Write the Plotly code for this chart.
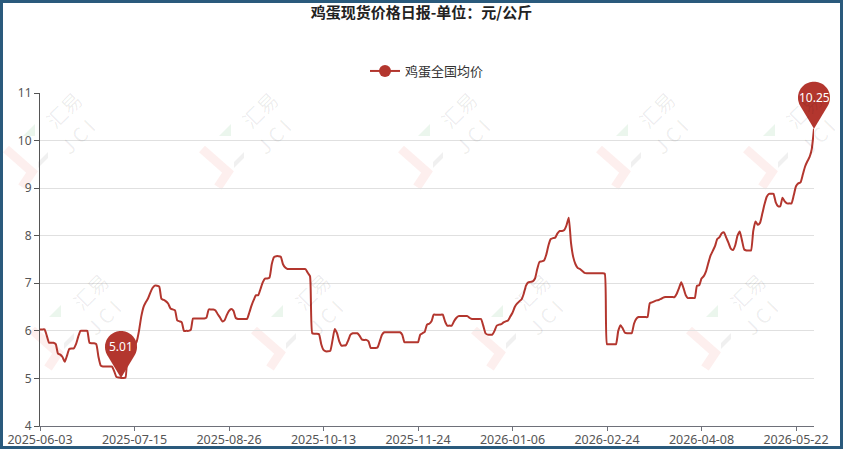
import math
import pandas as pd
import plotly.graph_objects as go

title_text = "鸡蛋现货价格日报-单位：元/公斤"
series_name = "鸡蛋全国均价"

start_date = "2025-06-03"
end_date = "2026-05-30"
# days with no quote (holidays)
closed_days = [
    "2025-10-01", "2025-10-02", "2025-10-03", "2025-10-04", "2025-10-05", "2025-10-06",
    "2026-01-01",
    "2026-02-16", "2026-02-17", "2026-02-18", "2026-02-19", "2026-02-20", "2026-02-21", "2026-02-22",
    "2026-04-05",
    "2026-05-01", "2026-05-02",
]

# 元/公斤, one value per quoted day
egg_price = [
    6.03, 6.03, 6.03, 5.90, 5.75, 5.75, 5.75, 5.72, 5.52, 5.50,
    5.45, 5.35, 5.48, 5.62, 5.63, 5.63, 5.72, 5.88, 6.00, 6.00,
    6.00, 6.00, 5.75, 5.74, 5.74, 5.72, 5.45, 5.27, 5.25, 5.25,
    5.25, 5.25, 5.25, 5.15, 5.03, 5.02, 5.01, 5.01, 5.02, 5.60,
    5.69, 5.69, 5.69, 5.78, 6.00, 6.30, 6.50, 6.60, 6.68, 6.80,
    6.90, 6.95, 6.95, 6.93, 6.67, 6.65, 6.62, 6.57, 6.47, 6.45,
    6.43, 6.22, 6.20, 6.18, 6.00, 6.00, 6.00, 6.02, 6.26, 6.26,
    6.26, 6.26, 6.26, 6.26, 6.28, 6.45, 6.45, 6.45, 6.43, 6.35,
    6.28, 6.20, 6.22, 6.33, 6.42, 6.46, 6.42, 6.27, 6.25, 6.25,
    6.25, 6.25, 6.25, 6.38, 6.53, 6.65, 6.75, 6.75, 6.88, 7.02,
    7.10, 7.10, 7.12, 7.40, 7.55, 7.57, 7.57, 7.56, 7.40, 7.33,
    7.30, 7.30, 7.30, 7.30, 7.30, 7.30, 7.30, 7.30, 7.30, 7.22,
    7.15, 5.95, 5.94, 5.94, 5.93, 5.72, 5.60, 5.57, 5.57, 5.58,
    5.80, 6.04, 5.95, 5.78, 5.69, 5.69, 5.70, 5.80, 5.92, 5.95,
    5.95, 5.95, 5.90, 5.82, 5.81, 5.81, 5.78, 5.64, 5.64, 5.64,
    5.65, 5.78, 5.92, 5.97, 5.97, 5.97, 5.97, 5.97, 5.97, 5.97,
    5.97, 5.92, 5.76, 5.76, 5.76, 5.76, 5.76, 5.76, 5.76, 5.92,
    5.95, 5.98, 6.13, 6.15, 6.20, 6.34, 6.34, 6.34, 6.34, 6.34,
    6.20, 6.11, 6.11, 6.11, 6.20, 6.27, 6.31, 6.31, 6.31, 6.31,
    6.31, 6.27, 6.25, 6.25, 6.25, 6.25, 6.25, 6.11, 5.95, 5.92,
    5.92, 5.92, 6.00, 6.11, 6.13, 6.14, 6.18, 6.20, 6.22, 6.30,
    6.38, 6.50, 6.57, 6.62, 6.66, 6.78, 6.95, 7.02, 7.03, 7.04,
    7.10, 7.30, 7.45, 7.46, 7.48, 7.60, 7.80, 7.93, 7.95, 7.96,
    8.05, 8.10, 8.10, 8.12, 8.22, 8.38, 7.85, 7.55, 7.40, 7.32,
    7.30, 7.26, 7.22, 7.21, 7.21, 7.21, 7.21, 7.21, 7.21, 7.21,
    7.21, 7.20, 5.72, 5.72, 5.72, 5.72, 5.72, 6.00, 6.12, 6.05,
    5.96, 5.95, 5.95, 5.95, 6.15, 6.25, 6.29, 6.29, 6.29, 6.29,
    6.29, 6.58, 6.60, 6.62, 6.64, 6.65, 6.67, 6.70, 6.71, 6.71,
    6.71, 6.71, 6.71, 6.78, 6.90, 7.02, 6.90, 6.75, 6.69, 6.69,
    6.69, 6.69, 6.95, 6.96, 7.10, 7.15, 7.25, 7.42, 7.58, 7.68,
    7.78, 7.93, 7.97, 8.05, 8.07, 7.96, 7.85, 7.73, 7.70, 7.80,
    8.00, 8.09, 7.90, 7.71, 7.69, 7.69, 7.69, 8.10, 8.30, 8.23,
    8.27, 8.46, 8.66, 8.82, 8.88, 8.88, 8.88, 8.70, 8.62, 8.62,
    8.80, 8.72, 8.68, 8.68, 8.68, 8.85, 9.04, 9.10, 9.12, 9.28,
    9.45, 9.56, 9.65, 9.82, 10.25,
]

label_step = 42
y_min, y_max = 4, 11

dates = [d.strftime("%Y-%m-%d") for d in pd.date_range(start_date, end_date)
         if d.strftime("%Y-%m-%d") not in closed_days]

line_color = "#b3362e"
axis_color = "#6e7079"
W, H = 843, 449
ml, mr, mt, mb = 40, 29, 93, 23
pw, ph = W - ml - mr, H - mt - mb


def pin_path(r=16, h=31, n=48):
    half = math.acos(r / h)
    a0 = -math.pi / 2 + half
    a1 = 3 * math.pi / 2 - half
    parts = ["M 0 0"]
    for k in range(n + 1):
        a = a0 + (a1 - a0) * k / n
        parts.append("L %.2f %.2f" % (r * math.cos(a), h + r * math.sin(a)))
    parts.append("Z")
    return " ".join(parts)


fig = go.Figure()
fig.add_trace(go.Scatter(
    x=dates, y=egg_price, mode="lines", showlegend=False, name=series_name,
    line=dict(color=line_color, width=2, shape="spline", smoothing=0.5),
))
# legend entry (line + dot like the original)
fig.add_trace(go.Scatter(
    x=[None], y=[None], mode="lines+markers", name=series_name,
    line=dict(color=line_color, width=2), marker=dict(color=line_color, size=12),
))

shapes = []
annotations = []


# watermark logos, positioned in page pixels
def px_to_paper(x, y):
    return (x - ml) / pw, (H - mb - y) / ph


wm_spots = [(32, 172), (228, 172), (427, 172), (625, 172), (772, 172),
            (58, 353), (280, 353), (500, 353), (715, 353)]
for vx, vy in wm_spots:
    fx, fy = px_to_paper(vx, vy)
    base = dict(xref="paper", yref="paper", xsizemode="pixel", ysizemode="pixel",
                xanchor=fx, yanchor=fy, layer="below")
    shapes.append(dict(type="path", path="M -26 23 L 0 0 L -10 -15",
                       line=dict(color="rgba(235,80,70,0.09)", width=9),
                       fillcolor="rgba(0,0,0,0)", **base))
    shapes.append(dict(type="path", path="M -9 36 L 3 48 L 3 36 Z",
                       line=dict(width=0), fillcolor="rgba(60,170,80,0.10)", **base))
    shapes.append(dict(type="path", path="M 6 4 L 16 14 L 16 20 L 6 10 Z",
                       line=dict(width=0), fillcolor="rgba(0,0,0,0.06)", **base))
    for text, dx, dy in [("汇易", 32, -62), ("J C I", 45, -36)]:
        tx, ty = px_to_paper(vx + dx, vy + dy)
        annotations.append(dict(x=tx, y=ty, xref="paper", yref="paper", text=text,
                                xanchor="center", yanchor="middle",
                                showarrow=False, textangle=-45,
                                font=dict(family="Noto Sans CJK SC", size=20,
                                          color="rgba(0,0,0,0.07)")))

# max / min pins
n_last = len(dates) - 1
i_max = max(range(len(egg_price)), key=lambda i: egg_price[i])
i_min = min(range(len(egg_price)), key=lambda i: egg_price[i])
for idx in [i_max, i_min]:
    fx = idx / n_last
    fy = (egg_price[idx] - y_min) / (y_max - y_min)
    shapes.append(dict(type="path", xref="paper", yref="paper", xsizemode="pixel",
                       ysizemode="pixel", xanchor=fx, yanchor=fy, path=pin_path(),
                       fillcolor=line_color, line=dict(width=0), layer="above"))
    annotations.append(dict(x=fx, y=fy, xref="paper", yref="paper", yshift=31,
                            xanchor="center", yanchor="middle",
                            text="%.2f" % egg_price[idx], showarrow=False,
                            font=dict(family="Noto Sans", size=12, color="white")))

# outer frame
shapes.append(dict(type="rect", xref="paper", yref="paper",
                   x0=(1.5 - ml) / pw, x1=(W - 1.5 - ml) / pw,
                   y0=-(mb - 1.5) / ph, y1=(H - mb - 1.5) / ph,
                   line=dict(color="#2a5a7c", width=3), fillcolor="rgba(0,0,0,0)",
                   layer="above"))

fig.update_layout(
    width=W, height=H,
    margin=dict(l=ml, r=mr, t=mt, b=mb, pad=0, autoexpand=False),
    paper_bgcolor="white", plot_bgcolor="rgba(0,0,0,0)",
    title=dict(text="<b>" + title_text + "</b>", x=0.5, xanchor="center",
               y=1 - 13 / H, yref="container", yanchor="middle",
               font=dict(family="Noto Sans CJK SC", size=15, color="#222")),
    legend=dict(orientation="h", x=0.5, xanchor="center", y=(H - mb - 71) / ph,
                yanchor="middle", font=dict(family="Noto Sans CJK SC", size=13, color="#333"),
                itemwidth=30, bgcolor="rgba(0,0,0,0)"),
    shapes=shapes, annotations=annotations,
    hovermode=False,
)
fig.update_xaxes(
    type="category", range=[0, n_last], tickmode="array",
    tickvals=dates[::label_step], ticktext=dates[::label_step],
    showgrid=False, showline=True, linecolor=axis_color, linewidth=1,
    ticks="outside", ticklen=4, tickcolor=axis_color, ticklabelstandoff=-2,
    tickfont=dict(family="Noto Sans", size=12.5, color="#555"),
)
fig.update_yaxes(
    range=[y_min, y_max], dtick=1, showgrid=True, gridcolor="#e0e0e0", zeroline=False,
    showline=True, linecolor="#555", linewidth=1, ticks="outside", ticklen=5,
    tickcolor="#555", tickfont=dict(family="Noto Sans", size=12, color="#555"),
)

fig.write_html("out.html", config={"displayModeBar": False},
               post_script="document.body.style.margin='0';")
